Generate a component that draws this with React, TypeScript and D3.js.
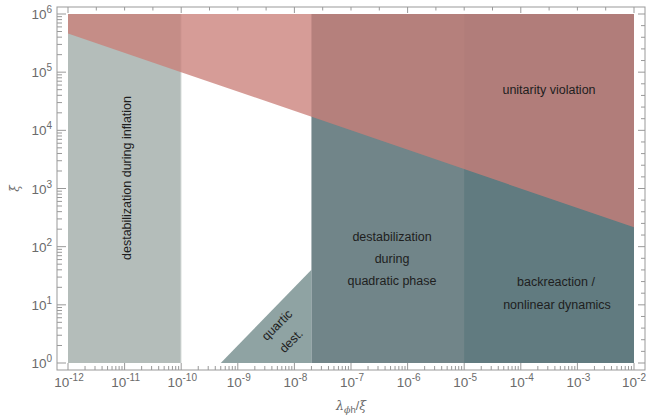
import React from "react";
import * as d3 from "d3";

// axis ranges (log scales)
const xDomain = [1e-12, 1e-2];
const yDomain = [1, 1e6];
const xMajorExps = [-12, -11, -10, -9, -8, -7, -6, -5, -4, -3, -2];
const yMajorExps = [0, 1, 2, 3, 4, 5, 6];

// region boundaries
const inflationX = [1e-12, 1e-10];
const quadraticX = [2e-8, 1e-2];
const backreactionX = [1e-5, 1e-2];
const unitarityLine = [
  [1e-12, 4.6e5],
  [1e-10, 1e5],
  [1e-2, 215],
];
const quarticLine = [
  [5e-10, 1],
  [2e-8, 40],
];

const W = 646;
const H = 417;
const frame = { left: 57, right: 645, top: 7, bottom: 370 };
const labelFont = "Liberation Sans, Arial, sans-serif";

const Pow = ({ x, y, exp, anchor }: { x: number; y: number; exp: number; anchor: string }) => (
  <text x={x} y={y} textAnchor={anchor} fontSize={13.5} fill="#6b6b6b" fontFamily={labelFont}>
    10<tspan dy={-6} fontSize={10}>{exp}</tspan>
  </text>
);

const App = () => {
  const x = d3.scaleLog().domain(xDomain).range([68, 634]);
  const y = d3.scaleLog().domain(yDomain).range([363, 14]);
  const yTop = y(yDomain[1]);
  const yBot = y(yDomain[0]);

  const rect = (x0: number, x1: number) =>
    `M${x(x0)},${yTop}H${x(x1)}V${yBot}H${x(x0)}Z`;

  const line = d3
    .line<number[]>()
    .x((d) => x(d[0]))
    .y((d) => y(d[1]));

  const unitarityPath =
    line(unitarityLine) + `L${x(xDomain[1])},${yTop}L${x(xDomain[0])},${yTop}Z`;
  const quarticPath =
    line(quarticLine) + `L${x(quarticLine[1][0])},${yBot}Z`;

  // minor ticks
  const xMinor: number[] = [];
  xMajorExps.slice(0, -1).forEach((e) => {
    for (let k = 2; k <= 9; k++) xMinor.push(k * Math.pow(10, e));
  });
  const yMinor: number[] = [];
  yMajorExps.slice(0, -1).forEach((e) => {
    for (let k = 2; k <= 9; k++) yMinor.push(k * Math.pow(10, e));
  });
  // top ticks every half decade, right ticks every 0.2 decade
  const topTicks = d3.range(-12, -1.99, 0.5);
  const rightTicks = d3.range(0, 6.01, 0.2);

  const tick = "#999";

  return (
    <svg width={W} height={H} style={{ position: "fixed", left: 0, top: 0, background: "#fff" }}>
      {/* regions */}
      <path d={rect(inflationX[0], inflationX[1])} fill="#b4bdba" />
      <line x1={x(inflationX[1])} x2={x(inflationX[1])} y1={yTop} y2={yBot} stroke="#e8ecea" strokeWidth={1} />
      <path d={quarticPath} fill="#8fa3a3" />
      <path d={rect(quadraticX[0], quadraticX[1])} fill="#718589" />
      <path d={rect(backreactionX[0], backreactionX[1])} fill="#617b80" />
      <path d={unitarityPath} fill="rgb(202,126,120)" fillOpacity={0.77} />

      {/* frame */}
      <rect x={frame.left} y={frame.top} width={frame.right - frame.left} height={frame.bottom - frame.top} fill="none" stroke={tick} strokeWidth={1} />

      {/* bottom ticks */}
      {xMajorExps.map((e) => (
        <line key={"xb" + e} x1={x(Math.pow(10, e))} x2={x(Math.pow(10, e))} y1={frame.bottom} y2={frame.bottom - 7} stroke={tick} />
      ))}
      {xMinor.map((v, i) => (
        <line key={"xm" + i} x1={x(v)} x2={x(v)} y1={frame.bottom} y2={frame.bottom - 4} stroke={tick} />
      ))}
      {/* top ticks */}
      {topTicks.map((e, i) => (
        <line key={"xt" + i} x1={x(Math.pow(10, e))} x2={x(Math.pow(10, e))} y1={frame.top} y2={frame.top + (Math.abs(e % 2) < 1e-6 ? 6 : 3.5)} stroke={tick} />
      ))}
      {/* left ticks */}
      {yMajorExps.map((e) => (
        <line key={"yl" + e} y1={y(Math.pow(10, e))} y2={y(Math.pow(10, e))} x1={frame.left} x2={frame.left + 9} stroke={tick} />
      ))}
      {yMinor.map((v, i) => (
        <line key={"ym" + i} y1={y(v)} y2={y(v)} x1={frame.left} x2={frame.left + 5} stroke={tick} />
      ))}
      {/* right ticks */}
      {rightTicks.map((e, i) => (
        <line key={"yr" + i} y1={y(Math.pow(10, e))} y2={y(Math.pow(10, e))} x1={frame.right} x2={frame.right - (Math.abs(e - Math.round(e)) < 1e-6 ? 7 : 4)} stroke={tick} />
      ))}

      {/* tick labels */}
      {xMajorExps.map((e, i) =>
        i === xMajorExps.length - 1 ? (
          <Pow key={"xl" + e} x={646} y={387} exp={e} anchor="end" />
        ) : (
          <Pow key={"xl" + e} x={x(Math.pow(10, e)) + 1} y={387} exp={e} anchor="middle" />
        )
      )}
      {yMajorExps.map((e) => (
        <Pow key={"ylb" + e} x={52} y={y(Math.pow(10, e)) + 5} exp={e} anchor="end" />
      ))}

      {/* axis labels */}
      <text transform={`translate(19,${(yTop + yBot) / 2}) rotate(-90)`} textAnchor="middle" fontSize={12} fill="#6b6b6b" fontFamily="DejaVu Serif, serif" fontStyle="italic">ξ</text>
      <text x={351} y={410} textAnchor="middle" fontSize={12.5} fill="#6b6b6b" fontFamily={labelFont}>
        <tspan fontStyle="italic" fontFamily="DejaVu Serif, serif">λ</tspan>
        <tspan dy={3} fontSize={9.5}><tspan fontStyle="italic" fontFamily="DejaVu Serif, serif">ϕ</tspan>h</tspan>
        <tspan dy={-3}>/</tspan>
        <tspan fontStyle="italic" fontFamily="DejaVu Serif, serif">ξ</tspan>
      </text>

      {/* region labels */}
      <g fontFamily={labelFont} fontSize={12.5} fill="#1e1e1e" textAnchor="middle">
        <text transform={`translate(131,178) rotate(-90)`}>destabilization during inflation</text>
        <text x={549} y={94}>unitarity violation</text>
        <text x={392} y={241}>destabilization</text>
        <text x={392} y={263}>during</text>
        <text x={392} y={285}>quadratic phase</text>
        <text x={556} y={286}>backreaction /</text>
        <text x={557} y={309}>nonlinear dynamics</text>
        <text transform={`translate(280,328) rotate(-45)`}>quartic</text>
        <text transform={`translate(294,344) rotate(-45)`}>dest.</text>
      </g>
    </svg>
  );
};

export default App;
